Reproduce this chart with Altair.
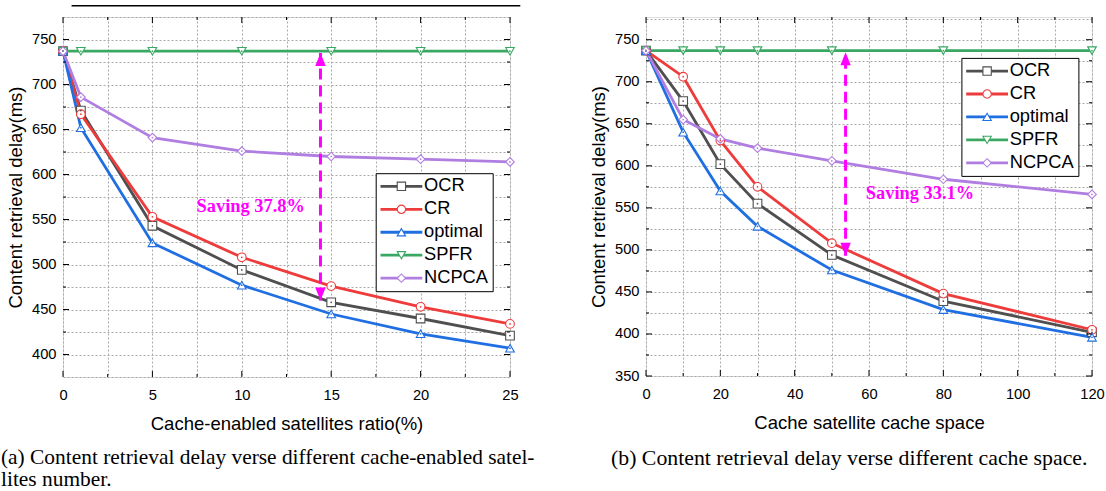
import altair as alt
import pandas as pd

SERIES = ["OCR", "CR", "optimal", "SPFR", "NCPCA"]
COLORS = ["#4f4f4f", "#ee3b3b", "#1f6fe2", "#3aa862", "#b07ee0"]
SHAPES = ["square", "circle", "triangle-up", "triangle-down", "diamond"]
MAGENTA = "#ff00ff"
SANS = "Liberation Sans"
SERIF = "Liberation Serif"
GRID = "#a8a8a8"

# ---------------- panel (a) ----------------
xa = [0, 1, 5, 10, 15, 20, 25]
ocr_a = [737, 671, 543, 494, 458, 440, 421]
cr_a = [737, 667, 553, 508, 476, 453, 434]
opt_a = [737, 652, 524, 477, 445, 423, 407]
spfr_a = [737, 737, 737, 737, 737, 737, 737]
ncpca_a = [737, 686, 641, 626, 620, 617, 614]

xa_major = [0, 5, 10, 15, 20, 25]
xa_minor = [2.5, 7.5, 12.5, 17.5, 22.5]
ya_major = [400, 450, 500, 550, 600, 650, 700, 750]
ya_minor = [425, 475, 525, 575, 625, 675, 725]
ya_grid = [375, 400, 425, 450, 475, 500, 525, 550, 575, 600, 625, 650, 675, 700, 725, 750, 775]

# ---------------- panel (b) ----------------
xb = [0, 10, 20, 30, 50, 80, 120]
ocr_b = [737, 677, 602, 555, 494, 439, 402]
cr_b = [737, 706, 630, 575, 508, 448, 405]
opt_b = [737, 640, 570, 528, 476, 429, 396]
spfr_b = [737, 737, 737, 737, 737, 737, 737]
ncpca_b = [737, 655, 632, 621, 606, 584, 566]

xb_major = [0, 20, 40, 60, 80, 100, 120]
xb_minor = [10, 30, 50, 70, 90, 110]
yb_major = [350, 400, 450, 500, 550, 600, 650, 700, 750]
yb_minor = [375, 425, 475, 525, 575, 625, 675, 725]
yb_grid = [350, 375, 400, 425, 450, 475, 500, 525, 550, 575, 600, 625, 650, 675, 700, 725, 750, 775]

caption_a = ["(a) Content retrieval delay verse different cache-enabled satel-", "lites number."]
caption_b = ["(b) Content retrieval delay verse different cache space."]

LEG_SIZE = 70          # symbol area; sqrt = 8.37 px
LEG_PAD = 4
LEG_ROWPAD = 3.95
LEG_FONT = 18.3


def long_df(xs, cols):
    rows = []
    for name, ys in zip(SERIES, cols):
        for x, y in zip(xs, ys):
            rows.append({"x": x, "y": y, "series": name, "mk": name})
    return pd.DataFrame(rows)


def panel(df, W, H, xdom, ydom, xmaj, xmin, xstep, ymaj, ymin, ygrid, ystep, xtitle,
          arrow_x, arrow_lo, arrow_hi, txt, txt_x, txt_y, legx, legy,
          caps, cap_size, cap_x, cap_y, cap_dy, top_rule=None):
    xaxis = alt.Axis(values=sorted(xmaj + xmin), format="d",
                     labelExpr=f"datum.value % {xstep} === 0 ? datum.label : ''",
                     title=xtitle, grid=True, gridColor=GRID, gridDash=[2, 2], gridWidth=1,
                     ticks=False, tickSize=0, domain=False, labelFont=SANS, labelFontSize=14.7,
                     labelColor="black", labelPadding=10, labelFlush=False, labelOverlap=False,
                     titleFont=SANS, titleFontSize=18.5, titleFontWeight="normal",
                     titleColor="black", titlePadding=13)
    yaxis = alt.Axis(values=ygrid, format="d",
                     labelExpr=f"datum.value % {ystep} === 0 ? datum.label : ''",
                     title="Content retrieval delay(ms)", grid=True, gridColor=GRID,
                     gridDash=[2, 2], gridWidth=1, ticks=False, tickSize=0, domain=False,
                     labelFont=SANS, labelFontSize=14.7, labelColor="black", labelPadding=7,
                     labelFlush=False, labelOverlap=False, titleFont=SANS, titleFontSize=18.5,
                     titleFontWeight="normal", titleColor="black", titlePadding=6)
    X = alt.X("x:Q", scale=alt.Scale(domain=xdom, nice=False, zero=False), axis=xaxis)
    Y = alt.Y("y:Q", scale=alt.Scale(domain=ydom, nice=False, zero=False), axis=yaxis)

    unit = LEG_SIZE ** 0.5 / 2
    # legend of the lines: a horizontal stroke ~42 px long, labels to its right
    leg_a = alt.Legend(title=None, orient="none", legendX=legx, legendY=legy,
                       symbolType="M-2,0L8,0", symbolSize=LEG_SIZE, symbolStrokeWidth=2.8,
                       symbolFillColor="transparent",
                       labelFont=SANS, labelFontSize=LEG_FONT, labelColor="black",
                       labelOffset=26,
                       rowPadding=LEG_ROWPAD, padding=LEG_PAD, strokeColor="black",
                       fillColor="white", cornerRadius=0)
    # legend of the markers, laid over the middle of each stroke
    leg_b = alt.Legend(title=None, orient="none", legendX=legx + 3 * unit, legendY=legy,
                       symbolSize=LEG_SIZE, symbolStrokeWidth=1.1, symbolFillColor="white",
                       labelFont=SANS, labelFontSize=LEG_FONT, labelExpr="''",
                       rowPadding=LEG_ROWPAD, padding=LEG_PAD)

    lines = alt.Chart(df).mark_line(strokeWidth=2.8).encode(
        x=X, y=Y,
        color=alt.Color("series:N", sort=SERIES, scale=alt.Scale(range=COLORS), legend=leg_a),
    )
    pts = alt.Chart(df).mark_point(filled=False, fill="white", size=75, strokeWidth=1.1,
                                   opacity=1).encode(
        x=X, y=Y,
        stroke=alt.Stroke("mk:N", scale=alt.Scale(domain=SERIES, range=COLORS), legend=leg_b),
        shape=alt.Shape("mk:N", scale=alt.Scale(domain=SERIES, range=SHAPES), legend=leg_b),
    )
    dots = alt.Chart(df).mark_circle(size=3, opacity=1).encode(
        x=X, y=Y,
        color=alt.Color("series:N", sort=SERIES, scale=alt.Scale(range=COLORS), legend=None),
    )

    arrow = pd.DataFrame({"x": [arrow_x], "y": [arrow_lo], "y_end": [arrow_hi]})
    rule = alt.Chart(arrow).mark_rule(color=MAGENTA, strokeWidth=3, strokeDash=[11, 6]).encode(
        x=X, y=Y, y2="y_end:Q")
    head_up = alt.Chart(pd.DataFrame({"x": [arrow_x], "y": [arrow_hi]})).mark_point(
        shape="M0,0L-0.4,1L0.4,1Z", filled=True, size=676, color=MAGENTA, opacity=1).encode(x=X, y=Y)
    head_dn = alt.Chart(pd.DataFrame({"x": [arrow_x], "y": [arrow_lo]})).mark_point(
        shape="M0,0L-0.4,-1L0.4,-1Z", filled=True, size=676, color=MAGENTA, opacity=1).encode(x=X, y=Y)

    sav = alt.Chart(pd.DataFrame({"x": [txt_x], "y": [txt_y], "t": [txt]})).mark_text(
        font=SERIF, fontWeight="bold", fontSize=18.4, color=MAGENTA, align="center",
        baseline="middle").encode(x=X, y=Y, text="t:N")

    ticks = []
    for vals, L in ((ymaj, 6), (ymin, 3)):
        d = pd.DataFrame({"y": vals})
        ticks.append(alt.Chart(d).mark_rule(color="black", strokeWidth=1).encode(
            y=Y, x=alt.value(0), x2=alt.value(L)))
        ticks.append(alt.Chart(d).mark_rule(color="black", strokeWidth=1).encode(
            y=Y, x=alt.value(W - L), x2=alt.value(W)))
    for vals, L in ((xmaj, 6), (xmin, 3)):
        d = pd.DataFrame({"x": vals})
        ticks.append(alt.Chart(d).mark_rule(color="black", strokeWidth=1).encode(
            x=X, y=alt.value(H), y2=alt.value(H - L)))
        ticks.append(alt.Chart(d).mark_rule(color="black", strokeWidth=1).encode(
            x=X, y=alt.value(0), y2=alt.value(L)))

    caps_layers = []
    for i, line in enumerate(caps):
        caps_layers.append(alt.Chart(pd.DataFrame({"t": [line]})).mark_text(
            font=SERIF, fontSize=cap_size, color="black", align="left", baseline="middle").encode(
            x=alt.value(cap_x), y=alt.value(cap_y + i * cap_dy), text="t:N"))

    extra = []
    if top_rule is not None:
        extra.append(alt.Chart(pd.DataFrame({"t": [0]})).mark_rule(
            color="black", strokeWidth=1.5).encode(
            x=alt.value(top_rule[0]), x2=alt.value(top_rule[1]), y=alt.value(top_rule[2])))

    return alt.layer(lines, pts, dots, rule, head_up, head_dn, sav, *ticks, *caps_layers,
                     *extra).properties(width=W, height=H)


df_a = long_df(xa, [ocr_a, cr_a, opt_a, spfr_a, ncpca_a])
df_b = long_df(xb, [ocr_b, cr_b, opt_b, spfr_b, ncpca_b])

left = panel(df_a, 447, 360, [0, 25], [375, 775], xa_major, xa_minor, 5,
             ya_major, ya_minor, ya_grid, 50, "Cache-enabled satellites ratio(%)",
             14.4, 460, 735, "Saving 37.8%", 10.5, 565,
             312.7, 156.2, caption_a, 21.4, -62, 441, 22, top_rule=(8.6, 457.3, -11.2))
right = panel(df_b, 446, 359, [0, 120], [350, 777], xb_major, xb_minor, 20,
              yb_major, yb_minor, yb_grid, 50, "Cache satellite cache space",
              53.7, 493, 735, "Saving 33.1%", 73.7, 568,
              315.4, 40.9, caption_b, 21.8, -35, 441, 22)

chart = alt.hconcat(left, right, spacing=136, bounds="flush").resolve_scale(
    color="independent", stroke="independent", shape="independent"
).resolve_legend(
    color="independent", stroke="independent", shape="independent"
).properties(
    padding={"left": 0, "top": 4, "right": 0, "bottom": 0}
).configure_view(stroke="black", strokeWidth=1.5).configure(background="white")

chart.save("out.html", embed_options={"renderer": "svg", "actions": False})
